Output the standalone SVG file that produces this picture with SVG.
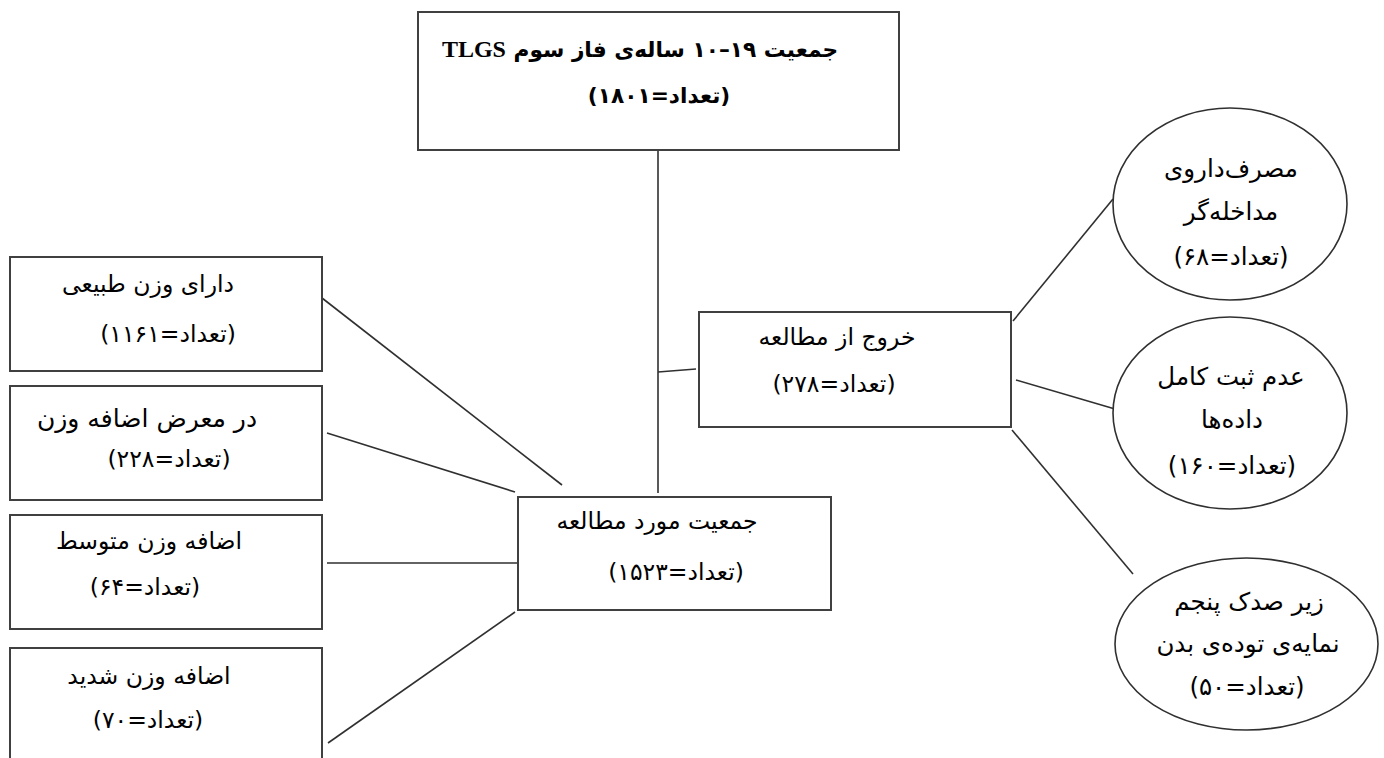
<svg xmlns="http://www.w3.org/2000/svg" width="1384" height="758" viewBox="0 0 1384 758">
<style>
.box{fill:#fff;stroke:#404040;stroke-width:2}
.ell{fill:#fff;stroke:#303030;stroke-width:1.6}
.conn line{stroke:#303030;stroke-width:1.6}
text{font-family:"DejaVu Sans","Liberation Sans","Noto Sans",sans-serif;font-size:23.5px;fill:#000;text-anchor:middle;direction:rtl}
.title{font-family:"Liberation Serif","DejaVu Sans",serif;font-weight:bold;font-size:24px}
.ar{font-family:"DejaVu Sans",sans-serif;font-size:21.7px}
.e text{font-size:24.5px}
</style>
<rect width="1384" height="758" fill="#fff"/>
<g class="conn" id="connectors">
<line x1="658" y1="150" x2="658" y2="493"/>
<line x1="658" y1="372" x2="696" y2="369"/>
<line x1="1013" y1="321" x2="1113" y2="199"/>
<line x1="1016" y1="380" x2="1115" y2="409"/>
<line x1="1012" y1="430" x2="1133" y2="574"/>
<line x1="322" y1="298" x2="562" y2="485"/>
<line x1="327" y1="433" x2="515" y2="492"/>
<line x1="327" y1="563" x2="517" y2="563"/>
<line x1="328" y1="743" x2="515" y2="612"/>
</g>
<g id="top">
<rect class="box" x="418" y="12" width="481" height="138"/>
<text class="title" x="640" y="57"><tspan class="ar">جمعیت ۱۹–۱۰ ساله‌ی فاز سوم </tspan>TLGS</text>
<text class="title" x="659" y="103"><tspan class="ar">(تعداد=۱۸۰۱)</tspan></text>
</g>
<g id="study">
<rect class="box" x="518" y="497" width="313" height="113"/>
<text x="657" y="529">جمعیت مورد مطالعه</text>
<text x="676" y="580">(تعداد=۱۵۲۳)</text>
</g>
<g id="exit">
<rect class="box" x="699" y="312" width="312" height="115"/>
<text x="837" y="345">خروج از مطالعه</text>
<text x="834" y="392">(تعداد=۲۷۸)</text>
</g>
<g id="normal">
<rect class="box" x="10" y="257" width="312" height="114"/>
<text x="148" y="292">دارای وزن طبیعی</text>
<text x="168" y="342">(تعداد=۱۱۶۱)</text>
</g>
<g id="atrisk">
<rect class="box" x="10" y="386" width="312" height="114"/>
<text x="147" y="427" style="font-size:25px">در معرض اضافه وزن</text>
<text x="169" y="467">(تعداد=۲۲۸)</text>
</g>
<g id="moderate">
<rect class="box" x="10" y="515" width="312" height="114"/>
<text x="149" y="549">اضافه وزن متوسط</text>
<text x="145" y="595">(تعداد=۶۴)</text>
</g>
<g id="severe">
<rect class="box" x="10" y="648" width="312" height="130"/>
<text x="149" y="684">اضافه وزن شدید</text>
<text x="148" y="728">(تعداد=۷۰)</text>
</g>
<g id="drug" class="e">
<ellipse class="ell" cx="1230" cy="204" rx="117" ry="96"/>
<text x="1231" y="177">مصرف‌داروی</text>
<text x="1231" y="220">مداخله‌گر</text>
<text x="1231" y="265">(تعداد=۶۸)</text>
</g>
<g id="incomplete" class="e">
<ellipse class="ell" cx="1230" cy="413" rx="117" ry="96"/>
<text x="1231" y="385">عدم ثبت کامل</text>
<text x="1232" y="428">داده‌ها</text>
<text x="1232" y="474">(تعداد=۱۶۰)</text>
</g>
<g id="under5" class="e">
<ellipse class="ell" cx="1246.5" cy="644" rx="131.5" ry="86"/>
<text x="1249" y="610">زیر صدک پنجم</text>
<text x="1248" y="652">نمایه‌ی توده‌ی بدن</text>
<text x="1247" y="695">(تعداد=۵۰)</text>
</g>
</svg>
